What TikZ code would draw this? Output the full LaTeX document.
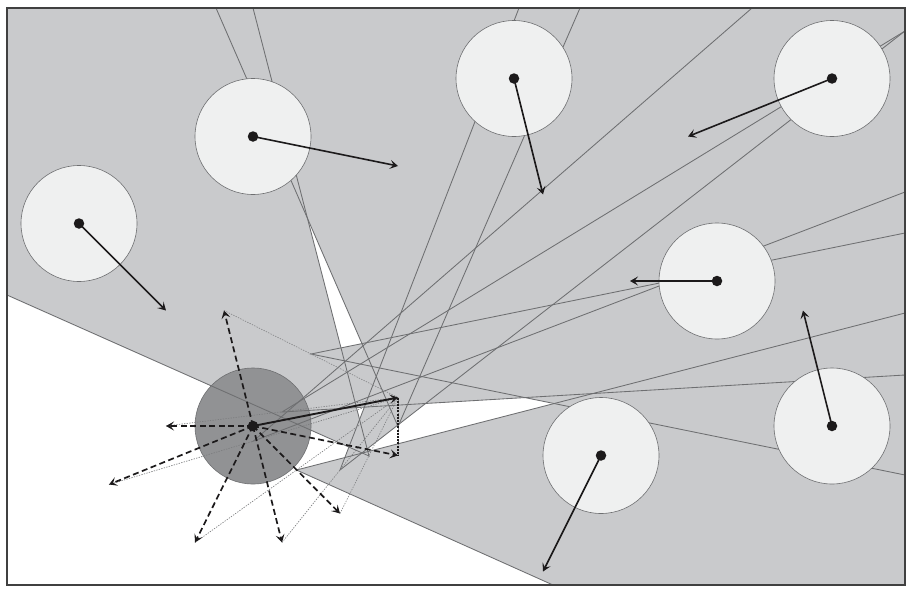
\documentclass[tikz,border=0pt]{standalone}
\usetikzlibrary{arrows.meta,calc}
\definecolor{conegray}{HTML}{C9CACC}
\definecolor{linegray}{HTML}{6E6F71}
\definecolor{helpergray}{HTML}{7C7D7F}
\definecolor{disc}{HTML}{EFF0F0}
\definecolor{robotgray}{HTML}{919294}
\definecolor{ink}{HTML}{1C1A1B}
\tikzset{
  obstacle/.style={circle,draw=linegray,line width=.6pt,fill=disc,minimum size=116pt,inner sep=0pt},
  robot/.style={circle,draw=linegray,line width=.6pt,fill=robotgray,minimum size=116pt,inner sep=0pt},
  centredot/.style={circle,fill=ink,minimum size=10.5pt,inner sep=0pt},
  coneline/.style={draw=linegray,line width=.85pt},
  velo/.style={draw=ink,line width=1.6pt,-{Stealth[length=8pt,width=9pt,inset=3.5pt]}},
  candidate/.style={draw=ink,line width=1.7pt,dash pattern=on 6pt off 3.5pt,-{Stealth[length=8pt,width=9pt,inset=3.5pt]}},
  helper/.style={draw=helpergray,line width=.65pt,dash pattern=on 1.3pt off 1.3pt},
  frameline/.style={draw=black!75,line width=1.2pt},
}
\begin{document}
\begin{tikzpicture}[x=1pt,y=-1pt]
\useasboundingbox (0,0) rectangle (915,592);
\coordinate (rc) at (253,426);
\coordinate (va) at (398,397.5);
\coordinate (fa) at (7,8);
\coordinate (fb) at (905,585);
\fill[white] (0,0) rectangle (915,592);
\begin{scope}
\clip (fa) rectangle (fb);
% number / apex / the two points where the cone leaves the frame / obstacle velocity tip / same velocity at the robot
\foreach \n/\px/\py/\ax/\ay/\bx/\by/\tx/\ty/\rx/\ry in {
  1/369/456/7/295/253/8/166/310.5/340/513.5,
  2/398/426.5/216/8/580/8/398/166/398/455.5,
  3/340/470/519/8/905/31/543/194.5/282/542.5,
  4/253.5/441/752/8/905/192/688/136.5/109/484.5,
  5/282/412/905/31/905/375/630/281/166/426,
  6/296.5/470/905/313/553/585/543/571.5/195/542.5,
  7/311/354/905/233/905/475/803/310.5/224/310.5}{
  \coordinate (apex\n) at (\px,\py);
  \coordinate (ea\n) at (\ax,\ay);
  \coordinate (eb\n) at (\bx,\by);
  \coordinate (b\n) at (\tx,\ty);
  \coordinate (t\n) at (\rx,\ry);
  \fill[conegray] (apex\n) -- ($(apex\n)!5!(ea\n)$) -- ($(apex\n)!5!(eb\n)$) -- cycle;
}
\node[robot] (robot) at (rc) {};
\foreach \n in {1,...,7}{
  \draw[coneline] (ea\n) -- (apex\n) -- (eb\n);
}
\end{scope}
\foreach \n in {1,...,7}{
  \draw[helper] (t\n) -- (va);
}
\node[obstacle] (o1) at (79,223.5) {};
\node[obstacle] (o2) at (253,136.5) {};
\node[obstacle] (o3) at (514,78.5) {};
\node[obstacle] (o4) at (832,78.5) {};
\node[obstacle] (o5) at (717,281) {};
\node[obstacle] (o6) at (601,455.5) {};
\node[obstacle] (o7) at (832,426) {};
\draw[frameline] (fa) rectangle (fb);
\draw[draw=ink,line width=1.3pt,dash pattern=on 2pt off 1.2pt] (va) -- (t2);
\foreach \n in {1,...,7}{
  \draw[candidate] (rc) -- (t\n);
  \draw[velo] (o\n.center) -- (b\n);
  \node[centredot] (c\n) at (o\n.center) {};
}
\draw[velo,line width=1.9pt] (rc) -- (va);
\node[centredot] (rd) at (rc) {};
\end{tikzpicture}
\end{document}
